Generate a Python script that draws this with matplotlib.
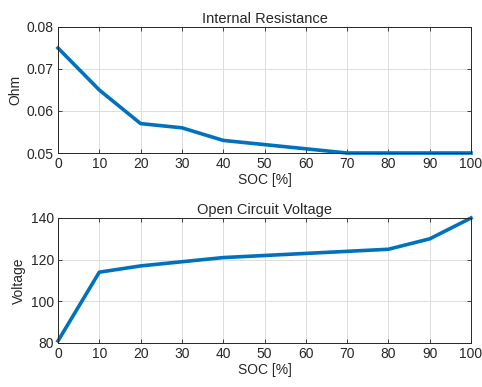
import matplotlib
matplotlib.use('Agg')
import matplotlib.pyplot as plt

# state of charge and battery parameters
soc = [0, 10, 20, 30, 40, 50, 60, 70, 80, 90, 100]
resistance = [0.075, 0.065, 0.057, 0.056, 0.053, 0.052, 0.051, 0.050, 0.050, 0.050, 0.050]
voltage = [81, 114, 117, 119, 121, 122, 123, 124, 125, 130, 140]

plt.rcParams['font.family'] = ['Liberation Sans', 'DejaVu Sans']
plt.rcParams['font.size'] = 10

fig = plt.figure(figsize=(4.82, 3.87), dpi=100)
W, H = 482, 387
ax1 = fig.add_axes([58 / W, 1 - 153 / H, 413 / W, 126 / H])
ax2 = fig.add_axes([58 / W, 1 - 343 / H, 413 / W, 125 / H])

def style(ax, yticks):
    ax.set_xlim(0, 100)
    ax.set_xticks(soc)
    ax.set_yticks(yticks)
    ax.set_ylim(yticks[0], yticks[-1])
    ax.grid(True, color='#dddddd', linewidth=0.7)
    ax.set_axisbelow(True)
    ax.tick_params(direction='in', top=True, right=True, length=3, pad=3,
                   colors='#262626', labelcolor='#262626', width=0.6)
    for s in ax.spines.values():
        s.set_color('#262626')
        s.set_linewidth(0.7)
    ax.set_xlabel('SOC [%]', labelpad=1, color='#262626')

ax1.plot(soc, resistance, color='#0072BD', linewidth=2.6, clip_on=False)
style(ax1, [0.05, 0.06, 0.07, 0.08])
ax1.set_yticklabels(['0.05', '0.06', '0.07', '0.08'])
ax1.set_ylabel('Ohm', color='#262626', labelpad=3)
ax1.set_title('Internal Resistance', fontsize=10.5, pad=3, color='#262626')

ax2.plot(soc, voltage, color='#0072BD', linewidth=2.6, clip_on=False)
style(ax2, [80, 100, 120, 140])
ax2.set_ylabel('Voltage', color='#262626', labelpad=3)
ax2.set_title('Open Circuit Voltage', fontsize=10.5, pad=3, color='#262626')

fig.savefig('out.png', dpi=100)
